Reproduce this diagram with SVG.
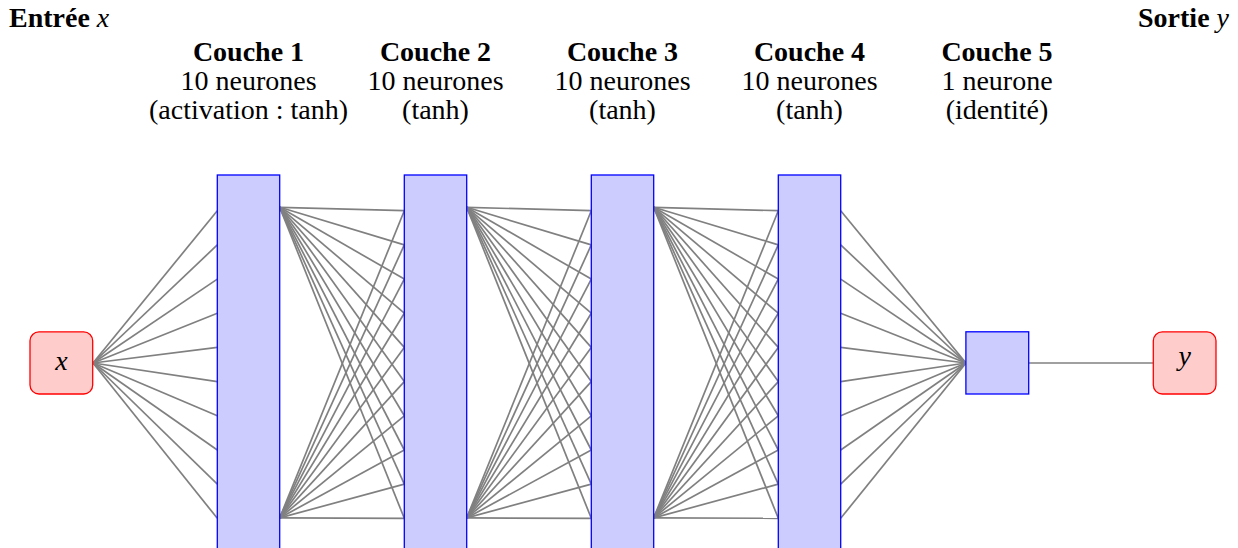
<svg xmlns="http://www.w3.org/2000/svg" width="1238" height="548" viewBox="0 0 1238 548">
<style>
.t{font-family:"Liberation Serif","Times New Roman",serif;font-size:28px;fill:#000;text-anchor:middle}
.b{font-weight:bold}
.i{font-style:italic}
.layer{fill:#ccccff;stroke:#0000ff;stroke-width:1.3}
.io{fill:#ffcccc;stroke:#ff0000;stroke-width:1.3}
.c line{stroke:#808080;stroke-width:1.7}
</style>
<rect width="1238" height="548" fill="#fff"/>
<g id="connectors" class="c">
<line x1="93" y1="363" x2="217.3" y2="210.7"/><line x1="93" y1="363" x2="217.3" y2="244.9"/><line x1="93" y1="363" x2="217.3" y2="279.1"/><line x1="93" y1="363" x2="217.3" y2="313.2"/><line x1="93" y1="363" x2="217.3" y2="347.4"/><line x1="93" y1="363" x2="217.3" y2="381.6"/><line x1="93" y1="363" x2="217.3" y2="415.8"/><line x1="93" y1="363" x2="217.3" y2="450"/><line x1="93" y1="363" x2="217.3" y2="484.1"/><line x1="93" y1="363" x2="217.3" y2="518.3"/>
<g>
<line x1="279.7" y1="207.3" x2="404.3" y2="210.7"/><line x1="279.7" y1="207.3" x2="404.3" y2="244.9"/><line x1="279.7" y1="207.3" x2="404.3" y2="279.1"/><line x1="279.7" y1="207.3" x2="404.3" y2="313.2"/><line x1="279.7" y1="207.3" x2="404.3" y2="347.4"/><line x1="279.7" y1="207.3" x2="404.3" y2="381.6"/><line x1="279.7" y1="207.3" x2="404.3" y2="415.8"/><line x1="279.7" y1="207.3" x2="404.3" y2="450"/><line x1="279.7" y1="207.3" x2="404.3" y2="484.1"/><line x1="279.7" y1="207.3" x2="404.3" y2="518.3"/>
<line x1="279.7" y1="517.9" x2="404.3" y2="210.7"/><line x1="279.7" y1="517.9" x2="404.3" y2="244.9"/><line x1="279.7" y1="517.9" x2="404.3" y2="279.1"/><line x1="279.7" y1="517.9" x2="404.3" y2="313.2"/><line x1="279.7" y1="517.9" x2="404.3" y2="347.4"/><line x1="279.7" y1="517.9" x2="404.3" y2="381.6"/><line x1="279.7" y1="517.9" x2="404.3" y2="415.8"/><line x1="279.7" y1="517.9" x2="404.3" y2="450"/><line x1="279.7" y1="517.9" x2="404.3" y2="484.1"/><line x1="279.7" y1="517.9" x2="404.3" y2="518.3"/>
</g>
<g transform="translate(187,0)">
<line x1="279.7" y1="207.3" x2="404.3" y2="210.7"/><line x1="279.7" y1="207.3" x2="404.3" y2="244.9"/><line x1="279.7" y1="207.3" x2="404.3" y2="279.1"/><line x1="279.7" y1="207.3" x2="404.3" y2="313.2"/><line x1="279.7" y1="207.3" x2="404.3" y2="347.4"/><line x1="279.7" y1="207.3" x2="404.3" y2="381.6"/><line x1="279.7" y1="207.3" x2="404.3" y2="415.8"/><line x1="279.7" y1="207.3" x2="404.3" y2="450"/><line x1="279.7" y1="207.3" x2="404.3" y2="484.1"/><line x1="279.7" y1="207.3" x2="404.3" y2="518.3"/>
<line x1="279.7" y1="517.9" x2="404.3" y2="210.7"/><line x1="279.7" y1="517.9" x2="404.3" y2="244.9"/><line x1="279.7" y1="517.9" x2="404.3" y2="279.1"/><line x1="279.7" y1="517.9" x2="404.3" y2="313.2"/><line x1="279.7" y1="517.9" x2="404.3" y2="347.4"/><line x1="279.7" y1="517.9" x2="404.3" y2="381.6"/><line x1="279.7" y1="517.9" x2="404.3" y2="415.8"/><line x1="279.7" y1="517.9" x2="404.3" y2="450"/><line x1="279.7" y1="517.9" x2="404.3" y2="484.1"/><line x1="279.7" y1="517.9" x2="404.3" y2="518.3"/>
</g>
<g transform="translate(374,0)">
<line x1="279.7" y1="207.3" x2="404.3" y2="210.7"/><line x1="279.7" y1="207.3" x2="404.3" y2="244.9"/><line x1="279.7" y1="207.3" x2="404.3" y2="279.1"/><line x1="279.7" y1="207.3" x2="404.3" y2="313.2"/><line x1="279.7" y1="207.3" x2="404.3" y2="347.4"/><line x1="279.7" y1="207.3" x2="404.3" y2="381.6"/><line x1="279.7" y1="207.3" x2="404.3" y2="415.8"/><line x1="279.7" y1="207.3" x2="404.3" y2="450"/><line x1="279.7" y1="207.3" x2="404.3" y2="484.1"/><line x1="279.7" y1="207.3" x2="404.3" y2="518.3"/>
<line x1="279.7" y1="517.9" x2="404.3" y2="210.7"/><line x1="279.7" y1="517.9" x2="404.3" y2="244.9"/><line x1="279.7" y1="517.9" x2="404.3" y2="279.1"/><line x1="279.7" y1="517.9" x2="404.3" y2="313.2"/><line x1="279.7" y1="517.9" x2="404.3" y2="347.4"/><line x1="279.7" y1="517.9" x2="404.3" y2="381.6"/><line x1="279.7" y1="517.9" x2="404.3" y2="415.8"/><line x1="279.7" y1="517.9" x2="404.3" y2="450"/><line x1="279.7" y1="517.9" x2="404.3" y2="484.1"/><line x1="279.7" y1="517.9" x2="404.3" y2="518.3"/>
</g>
<line x1="840.7" y1="210.7" x2="966" y2="363"/><line x1="840.7" y1="244.9" x2="966" y2="363"/><line x1="840.7" y1="279.1" x2="966" y2="363"/><line x1="840.7" y1="313.2" x2="966" y2="363"/><line x1="840.7" y1="347.4" x2="966" y2="363"/><line x1="840.7" y1="381.6" x2="966" y2="363"/><line x1="840.7" y1="415.8" x2="966" y2="363"/><line x1="840.7" y1="450" x2="966" y2="363"/><line x1="840.7" y1="484.1" x2="966" y2="363"/><line x1="840.7" y1="518.3" x2="966" y2="363"/>
<line x1="1028.7" y1="363" x2="1153.3" y2="363"/>
</g>
<g id="input">
<rect class="io" x="30" y="331.8" width="62.7" height="62.2" rx="9"/>
<text class="t i" x="61.5" y="369.5">x</text>
</g>
<g id="layer1">
<rect class="layer" x="217.3" y="175" width="62.4" height="380"/>
<text class="t b" x="248.5" y="60.5">Couche 1</text>
<text class="t" x="248.5" y="90">10 neurones</text>
<text class="t" x="248.5" y="119">(activation : tanh)</text>
</g>
<g id="layer2">
<rect class="layer" x="404.3" y="175" width="62.4" height="380"/>
<text class="t b" x="435.5" y="60.5">Couche 2</text>
<text class="t" x="435.5" y="90">10 neurones</text>
<text class="t" x="435.5" y="119">(tanh)</text>
</g>
<g id="layer3">
<rect class="layer" x="591.3" y="175" width="62.4" height="380"/>
<text class="t b" x="622.5" y="60.5">Couche 3</text>
<text class="t" x="622.5" y="90">10 neurones</text>
<text class="t" x="622.5" y="119">(tanh)</text>
</g>
<g id="layer4">
<rect class="layer" x="778.3" y="175" width="62.4" height="380"/>
<text class="t b" x="809.5" y="60.5">Couche 4</text>
<text class="t" x="809.5" y="90">10 neurones</text>
<text class="t" x="809.5" y="119">(tanh)</text>
</g>
<g id="layer5">
<rect class="layer" x="965.9" y="331.8" width="62.8" height="62.2"/>
<text class="t b" x="997" y="60.5">Couche 5</text>
<text class="t" x="997" y="90">1 neurone</text>
<text class="t" x="997" y="119">(identité)</text>
</g>
<g id="output">
<rect class="io" x="1153.3" y="331.8" width="62.7" height="62.2" rx="9"/>
<text class="t i" x="1184.7" y="365">y</text>
</g>
<g id="labels">
<text class="t" x="9" y="26.5" style="text-anchor:start"><tspan class="b">Entrée</tspan> <tspan class="i">x</tspan></text>
<text class="t" x="1229" y="26.5" style="text-anchor:end"><tspan class="b">Sortie</tspan> <tspan class="i">y</tspan></text>
</g>
</svg>
